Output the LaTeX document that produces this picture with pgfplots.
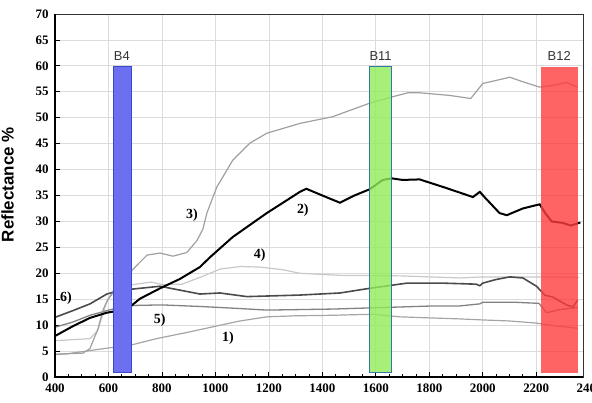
\documentclass[border=0pt]{standalone}
\usepackage{pgfplots}
\pgfplotsset{compat=1.18}
\usepackage{fontspec}
\setmainfont{Liberation Serif}
\newfontfamily\arialfont{Liberation Sans}
\definecolor{bblue}{RGB}{108,112,240}
\definecolor{bblueedge}{RGB}{60,70,200}
\definecolor{bgreen}{RGB}{144,236,89}
\definecolor{bgreenedge}{RGB}{50,120,170}
\definecolor{bred}{RGB}{255,61,61}
\definecolor{c1}{RGB}{165,165,165}
\definecolor{c3}{RGB}{160,160,160}
\definecolor{c4}{RGB}{200,200,200}
\definecolor{c5}{RGB}{130,130,130}
\definecolor{c6}{RGB}{75,75,75}
\begin{document}
\begin{tikzpicture}
\begin{axis}[name=ax, at={(0,0)}, anchor=south west,
  width=528bp, height=363bp, scale only axis,
  xmin=400, xmax=2375, ymin=0, ymax=70,
  xtick={400,600,...,2200}, ytick={0,5,...,70},
  minor x tick num=3,
  xtick pos=bottom, ytick pos=left, tick align=inside,
  major tick length=5bp, minor tick length=3bp,
  grid=major, major grid style={draw=black!14, line width=0.7bp},
  axis line style={black!80, line width=0.9bp},
  tick style={black, line width=0.8bp},
  ticklabel style={font=\fontsize{13}{13}\selectfont\bfseries},
  /pgf/number format/assume math mode=true,
  /pgf/number format/1000 sep={},
  xticklabel style={yshift=-3bp},
  yticklabel style={xshift=-3bp},
  clip=false,
]
% 1)
\addplot[c1, line width=1.2bp] coordinates {(400,4.3) (450,4.5) (531,5.1) (600,5.6) (680,6.1) (780,7.4) (904,8.7) (1028,10.1) (1092,10.8) (1192,11.6) (1300,11.8) (1439,11.9) (1589,12.1) (1690,11.6) (1800,11.4) (1914,11.2) (2000,11.0) (2100,10.8) (2200,10.4) (2280,9.8) (2355,9.4)};
% 4)
\addplot[c4, line width=1.2bp] coordinates {(400,7.0) (531,7.4) (560,9) (590,14) (615,16.5) (690,17.8) (718,18) (760,18.3) (803,17.8) (875,17.9) (942,19.2) (1017,20.8) (1092,21.3) (1166,21.2) (1250,20.7) (1316,20.0) (1466,19.6) (1690,19.5) (1914,19.1) (2000,19.3) (2200,19.3) (2360,19.2)};
% 5)
\addplot[c5, line width=1.3bp] coordinates {(400,9.6) (467,10.6) (531,11.9) (594,12.8) (640,13.4) (700,13.8) (800,13.9) (942,13.6) (1092,13.2) (1192,12.9) (1439,13.1) (1690,13.5) (1814,13.7) (1914,13.7) (1989,14.1) (2000,14.4) (2124,14.4) (2210,14.2) (2239,12.4) (2288,13) (2355,13.4)};
% 6)
\addplot[c6, line width=1.6bp] coordinates {(400,11.5) (467,12.8) (531,14.1) (594,16) (643,16.7) (718,17.1) (793,17.5) (842,17) (942,16) (1017,16.2) (1118,15.5) (1316,15.8) (1466,16.2) (1577,17.1) (1716,18.1) (1850,18.1) (1975,17.9) (1989,17.6) (2000,18.1) (2050,18.8) (2101,19.3) (2150,19.1) (2201,17.5) (2232,15.8) (2262,15.4) (2314,13.9) (2337,13.5) (2355,14.8)};
% 3)
\addplot[c3, line width=1.2bp] coordinates {(400,4.4) (505,4.6) (531,5.5) (561,9.3) (580,13) (598,15) (630,17) (692,20.8) (744,23.5) (793,23.9) (841,23.3) (893,24) (931,26.3) (953,28.5) (968,31.6) (1005,36.6) (1065,41.8) (1129,45.1) (1192,47) (1316,48.9) (1439,50.2) (1577,52.8) (1660,54) (1720,54.8) (1764,54.8) (1876,54.3) (1955,53.7) (2000,56.6) (2101,57.8) (2146,57) (2213,55.9) (2260,56.2) (2314,56.8) (2355,55.9)};
% 2)
\addplot[black, line width=2bp] coordinates {(400,7.9) (467,9.8) (531,11.4) (594,12.4) (640,12.8) (669,12.8) (682,13.6) (718,15.1) (793,17.1) (867,18.9) (942,21.2) (980,23.1) (1065,27) (1192,31.6) (1316,35.7) (1340,36.3) (1400,35) (1466,33.6) (1520,35) (1577,36.2) (1626,38) (1660,38.3) (1700,38) (1764,38.1) (1860,36.5) (1963,34.7) (1989,35.7) (2010,34.5) (2063,31.6) (2090,31.2) (2150,32.5) (2213,33.3) (2235,31.5) (2258,30) (2300,29.7) (2330,29.2) (2365,29.8)};
% bands
\addplot[draw=bblueedge, fill=bblue, line width=0.8bp] coordinates {(617,0.8) (684,0.8) (684,59.8) (617,59.8)} --cycle;
\addplot[draw=bgreenedge, fill=bgreen, fill opacity=0.8, line width=0.8bp] coordinates {(1577,0.8) (1660,0.8) (1660,59.8) (1577,59.8)} --cycle;
\addplot[draw=none, fill=bred, fill opacity=0.8] coordinates {(2217,0.8) (2355,0.8) (2355,59.8) (2217,59.8)} --cycle;
% band labels
\node[font=\arialfont\fontsize{13}{13}\selectfont, text=black!80, anchor=base, inner sep=0] at (axis cs:650,61) {B4};
\node[font=\arialfont\fontsize{13}{13}\selectfont, text=black!80, anchor=base, inner sep=0] at (axis cs:1618,61) {B11};
\node[font=\arialfont\fontsize{13}{13}\selectfont, text=black!80, anchor=base, inner sep=0] at (axis cs:2286,61) {B12};
% curve labels
\node[font=\fontsize{14}{14}\selectfont\bfseries] at (axis cs:1047,7.5) {1)};
\node[font=\fontsize{14}{14}\selectfont\bfseries] at (axis cs:1327,32.2) {2)};
\node[font=\fontsize{14}{14}\selectfont\bfseries] at (axis cs:912,31.2) {3)};
\node[font=\fontsize{14}{14}\selectfont\bfseries] at (axis cs:1166,23.5) {4)};
\node[font=\fontsize{14}{14}\selectfont\bfseries] at (axis cs:792,11) {5)};
\node[font=\fontsize{14}{14}\selectfont\bfseries] at (axis cs:441,15.2) {6)};
% 2400 tick label beyond frame
\node[anchor=north, font=\fontsize{13}{13}\selectfont\bfseries, yshift=-3bp] at (axis cs:2400,0) {2400};
% y label
\node[rotate=90, font=\arialfont\bfseries\fontsize{17}{17}\selectfont] at (rel axis cs:-0.09,0.53) {Reflectance \%};
% heavy left and bottom frame
\draw[black, line width=2.2bp] (rel axis cs:0,1) -- (rel axis cs:0,0) -- (rel axis cs:1,0);
\end{axis}
\pgfresetboundingbox
\useasboundingbox ([xshift=-55bp,yshift=-26bp]ax.south west) rectangle ([xshift=9bp,yshift=14bp]ax.north east);
\end{tikzpicture}
\end{document}
